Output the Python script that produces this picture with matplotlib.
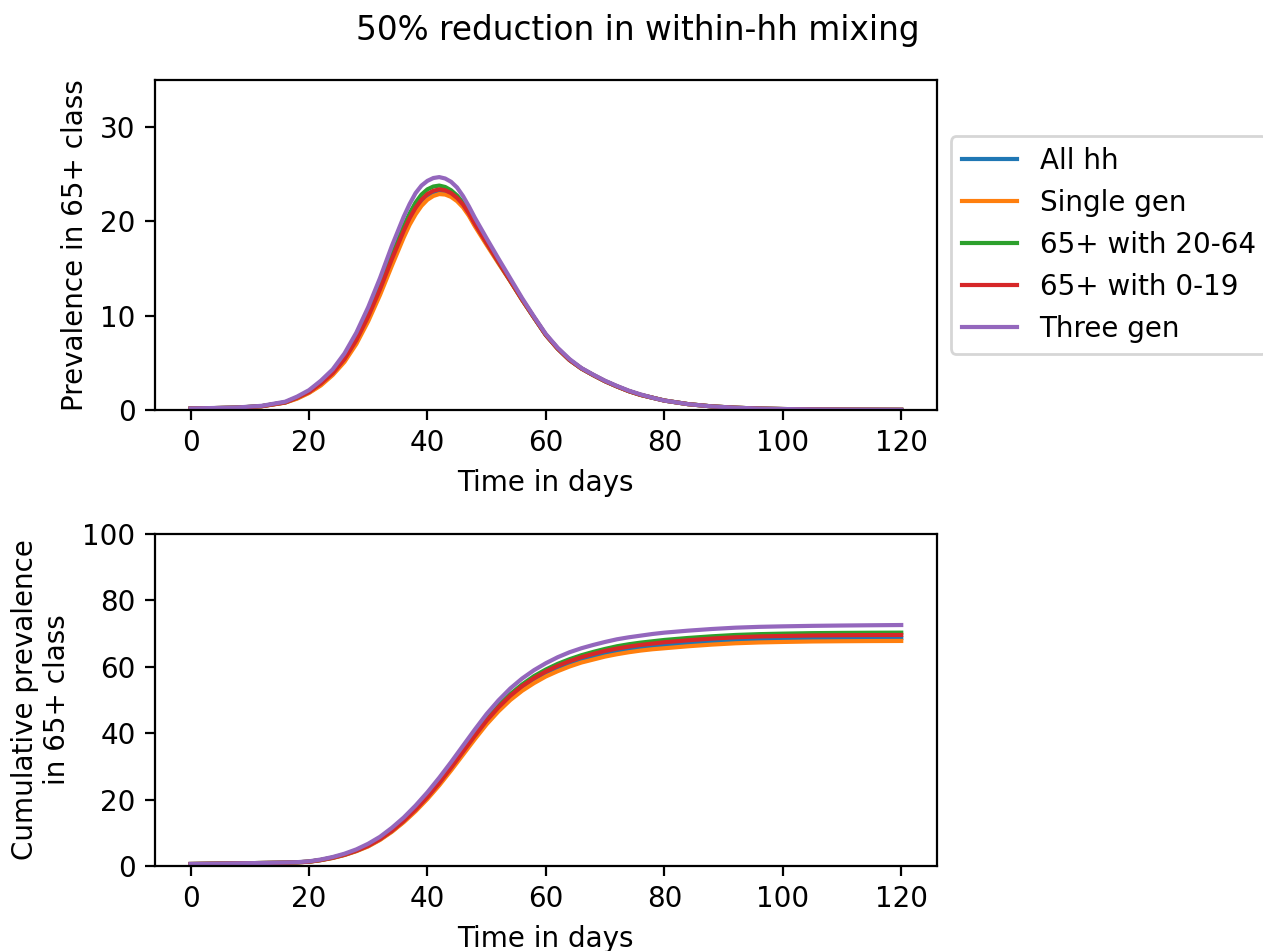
import matplotlib
matplotlib.use('Agg')
from matplotlib import pyplot as plt

# time points (days) for prevalence, denser around the peak
t_prev = [0, 4, 8, 12, 16,
          18, 20, 22, 24, 26, 28, 30, 32, 34,
          36, 37, 38, 39, 40, 41, 42, 43, 44, 45, 46, 47, 48,
          50, 52, 54, 56,
          58, 60, 62, 64, 66, 68, 70, 72, 74, 76, 78, 80,
          84, 88, 92, 96, 100, 105, 110, 115, 120]

# time points (days) for cumulative prevalence
t_cum = [0, 4, 8, 12, 16,
         18, 20, 22, 24, 26, 28, 30, 32, 34, 36, 38, 40, 42, 44, 46, 48, 50,
         52, 54, 56, 58, 60, 62, 64, 66, 68, 70, 72, 74, 76, 78, 80,
         84, 88, 92, 96, 100, 105, 110, 115, 120]

labels = ['All hh', 'Single gen', '65+ with 20-64', '65+ with 0-19', 'Three gen']
colors = ['tab:blue', 'tab:orange', 'tab:green', 'tab:red', 'tab:purple']

# shared decay from day 58 on
tail = [9.8, 7.95, 6.5, 5.3, 4.4, 3.7, 3.05, 2.5, 2.0, 1.6, 1.3, 1.0,
        0.62, 0.38, 0.24, 0.15, 0.1, 0.06, 0.04, 0.03, 0.02]

# prevalence in 65+ class
prev_all = ([0.15, 0.2, 0.25, 0.4, 0.8,
             1.25, 1.85, 2.7, 3.8, 5.3, 7.2, 9.7, 12.5, 15.7,
             18.7, 20.05, 21.15, 22.05, 22.7, 23.05, 23.2, 23.1, 22.8, 22.35, 21.7, 20.75, 19.65,
             17.65, 15.65, 13.7, 11.7] + tail)
prev_single = ([0.15, 0.2, 0.25, 0.39, 0.78,
                1.2, 1.8, 2.6, 3.7, 5.1, 7.0, 9.4, 12.2, 15.3,
                18.3, 19.65, 20.75, 21.65, 22.3, 22.7, 22.9, 22.85, 22.6, 22.15, 21.5, 20.6, 19.5,
                17.5, 15.55, 13.65, 11.65] + tail)
prev_2064 = ([0.15, 0.2, 0.26, 0.41, 0.82,
              1.32, 1.95, 2.85, 4.0, 5.5, 7.6, 10.2, 13.1, 16.4,
              19.5, 20.85, 22.0, 22.85, 23.4, 23.7, 23.8, 23.65, 23.3, 22.75, 22.0, 21.0, 19.85,
              17.75, 15.7, 13.7, 11.7] + tail)
prev_019 = ([0.15, 0.2, 0.25, 0.4, 0.8,
             1.3, 1.9, 2.8, 3.9, 5.4, 7.4, 9.9, 12.8, 16.0,
             19.0, 20.35, 21.45, 22.3, 22.9, 23.25, 23.4, 23.3, 23.0, 22.5, 21.8, 20.85, 19.75,
             17.7, 15.7, 13.7, 11.7] + tail)
prev_three = [0.16, 0.21, 0.27, 0.44, 0.88,
              1.42, 2.1, 3.1, 4.3, 6.0, 8.2, 10.9, 14.0, 17.4,
              20.5, 21.85, 23.0, 23.8, 24.3, 24.6, 24.7, 24.55, 24.2, 23.6, 22.7, 21.6, 20.4,
              18.2, 16.05, 13.95, 11.85,
              9.9, 8.05, 6.6, 5.4, 4.45, 3.75, 3.1, 2.55, 2.05, 1.65, 1.3, 1.0,
              0.62, 0.38, 0.24, 0.15, 0.1, 0.06, 0.04, 0.03, 0.02]

# cumulative prevalence in 65+ class
cum_all = [0.6, 0.7, 0.8, 0.9, 1.0,
           1.1, 1.3, 1.78, 2.45, 3.35, 4.55, 6.0, 8.0, 10.45, 13.4, 16.8, 20.5, 24.7,
           29.2, 34.0, 38.7, 43.2, 47.2, 50.6, 53.5, 55.9, 57.8, 59.5, 60.9, 62.1,
           63.1, 64.0, 64.6, 65.2, 65.7, 66.1, 66.5,
           67.1, 67.6, 68.0, 68.25, 68.4, 68.55, 68.62, 68.67, 68.7]
cum_single = [0.6, 0.7, 0.8, 0.9, 1.0,
              1.1, 1.27, 1.75, 2.4, 3.3, 4.45, 5.9, 7.85, 10.3, 13.2, 16.5, 20.2, 24.3,
              28.8, 33.5, 38.2, 42.7, 46.6, 50.0, 52.8, 55.1, 57.1, 58.7, 60.1, 61.3,
              62.2, 63.1, 63.8, 64.4, 64.9, 65.3, 65.6,
              66.2, 66.7, 67.1, 67.35, 67.5, 67.65, 67.72, 67.77, 67.8]
cum_2064 = [0.6, 0.7, 0.8, 0.9, 1.0,
            1.1, 1.32, 1.82, 2.55, 3.45, 4.65, 6.2, 8.2, 10.7, 13.75, 17.2, 21.0, 25.3,
            29.9, 34.8, 39.6, 44.2, 48.3, 51.8, 54.7, 57.2, 59.2, 60.9, 62.3, 63.5,
            64.5, 65.4, 66.2, 66.8, 67.3, 67.7, 68.1,
            68.7, 69.2, 69.6, 69.85, 70.0, 70.15, 70.22, 70.27, 70.3]
cum_019 = [0.6, 0.7, 0.8, 0.9, 1.0,
           1.1, 1.3, 1.8, 2.5, 3.4, 4.6, 6.1, 8.1, 10.6, 13.6, 17.0, 20.8, 25.0,
           29.6, 34.4, 39.2, 43.8, 47.8, 51.3, 54.2, 56.6, 58.6, 60.3, 61.7, 62.9,
           63.9, 64.8, 65.5, 66.1, 66.6, 67.0, 67.4,
           68.0, 68.5, 68.9, 69.15, 69.3, 69.45, 69.52, 69.57, 69.6]
cum_three = [0.6, 0.7, 0.8, 0.9, 1.05,
             1.15, 1.4, 1.95, 2.7, 3.7, 5.0, 6.7, 8.8, 11.5, 14.6, 18.2, 22.2, 26.6,
             31.3, 36.2, 41.1, 45.8, 49.9, 53.5, 56.5, 59.0, 61.1, 62.9, 64.4, 65.6,
             66.6, 67.5, 68.3, 68.9, 69.4, 69.9, 70.3,
             70.9, 71.4, 71.8, 72.05, 72.2, 72.35, 72.45, 72.53, 72.6]

prev = [prev_all, prev_single, prev_2064, prev_019, prev_three]
cum = [cum_all, cum_single, cum_2064, cum_019, cum_three]

fig = plt.figure(figsize=(6.315, 4.755), dpi=200)
ax1 = fig.add_axes([0.1227, 0.5689, 0.619, 0.347])
ax2 = fig.add_axes([0.1227, 0.0894, 0.619, 0.349])

for y, lab, c in zip(prev, labels, colors):
    ax1.plot(t_prev, y, color=c, label=lab)
ax1.set_xlabel('Time in days')
ax1.set_ylabel('Prevalence in 65+ class')
ax1.set_ylim(0, 35)
ax1.set_xticks([0, 20, 40, 60, 80, 100, 120])
ax1.legend(loc='center left', bbox_to_anchor=(1, 0.5))

for y, lab, c in zip(cum, labels, colors):
    ax2.plot(t_cum, y, color=c, label=lab)
ax2.set_xlabel('Time in days')
ax2.set_ylabel('Cumulative prevalence\nin 65+ class')
ax2.set_ylim(0, 100)
ax2.set_xticks([0, 20, 40, 60, 80, 100, 120])

fig.suptitle('50% reduction in within-hh mixing', x=0.505, y=0.985, fontsize=11.8)

fig.savefig('out.png', dpi=200)
